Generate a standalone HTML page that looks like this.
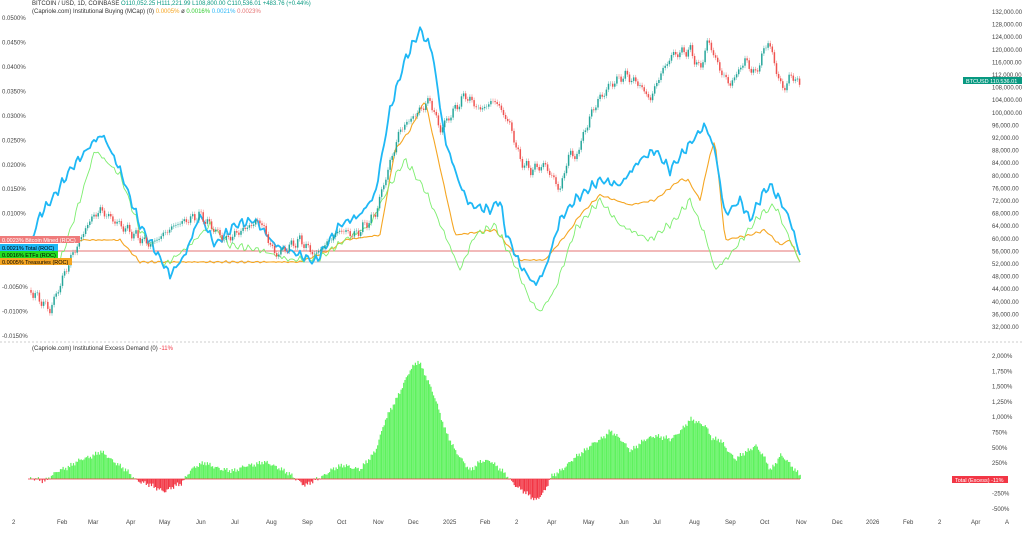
<!DOCTYPE html>
<html><head><meta charset="utf-8"><style>
body{margin:0;background:#fff;width:1024px;height:534px;overflow:hidden;font-family:"Liberation Sans",sans-serif}
svg text{font-family:"Liberation Sans",sans-serif}
</style></head><body>
<svg id="s" width="1024" height="534" xmlns="http://www.w3.org/2000/svg">
<line x1="0" y1="342" x2="1024" y2="342" stroke="#ccc" stroke-dasharray="2,2"/>
<g font-size="6" fill="#333">
<text x="32" y="5">BITCOIN / USD, 1D, COINBASE <tspan fill="#089981">O110,052.25 H111,221.99 L108,800.00 C110,536.01 +483.76 (+0.44%)</tspan></text>
<text x="32" y="13">(Capriole.com) Institutional Buying (MCap) (0) <tspan fill="#f5a623">0.0005%</tspan> ø <tspan fill="#3c3">0.0016%</tspan> <tspan fill="#29b6f6">0.0021%</tspan> <tspan fill="#e57373">0.0023%</tspan></text>
<text x="32" y="350">(Capriole.com) Institutional Excess Demand (0) <tspan fill="#f23645">-11%</tspan></text>
</g>
<g id="g"></g>
</svg>
<script>
const S=document.getElementById('g');let h='';
function I(p,x){for(let i=0;i<p.length-1;i++){if(x>=p[i][0]&&x<=p[i+1][0]){const t=(x-p[i][0])/(p[i+1][0]-p[i][0]);return p[i][1]+t*(p[i+1][1]-p[i][1]);}}return p[p.length-1][1];}
function pl(p,c,w){h+=`<polyline fill="none" stroke="${c}" stroke-width="${w}" stroke-linejoin="round" points="${p.map(a=>a.join(',')).join(' ')}"/>`;}
function nz(x,a){return (Math.sin(x*2.3)+Math.sin(x*0.77+1)*0.8+Math.sin(x*5.1+2)*0.5)*a;}
const L=['0.0500%','0.0450%','0.0400%','0.0350%','0.0300%','0.0250%','0.0200%','0.0150%','0.0100%','0.0050%','0.0000%','-0.0050%','-0.0100%','-0.0150%'];
L.forEach((t,i)=>{if(i<9||i>10)h+=`<text x="2" y="${20+i*24.46}" font-size="6" fill="#444">${t}</text>`;});
for(let p=132000;p>=32000;p-=4000){h+=`<text x="992" y="${14+(132000-p)*0.00315}" font-size="6" fill="#444">${p.toLocaleString('en-US')}.00</text>`;}
['2,000%','1,750%','1,500%','1,250%','1,000%','750%','500%','250%','','-250%','-500%'].forEach((t,i)=>{if(t)h+=`<text x="992" y="${358+i*15.3}" font-size="6" fill="#444">${t}</text>`;});
[['2',12],['Feb',57],['Mar',88],['Apr',126],['May',159],['Jun',196],['Jul',231],['Aug',266],['Sep',302],['Oct',337],['Nov',373],['Dec',408],['2025',443],['Feb',480],['2',515],['Apr',547],['May',583],['Jun',619],['Jul',653],['Aug',689],['Sep',725],['Oct',760],['Nov',796],['Dec',832],['2026',866],['Feb',903],['2',938],['Apr',971],['A',1005]].forEach(a=>{h+=`<text x="${a[1]}" y="524" font-size="6" fill="#444">${a[0]}</text>`;});
const H=[[30,479],[45,480],[60,470],[85,458],[100,452],[115,462],[135,479],[150,486],[165,491],[180,484],[190,470],[205,462],[220,470],[235,470],[250,465],[262,462],[280,468],[295,479],[305,485],[318,479],[330,470],[345,465],[360,470],[375,450],[385,420],[400,390],[410,370],[418,360],[425,375],[435,400],[445,430],[455,452],[470,470],[480,462],[490,460],[505,475],[515,485],[527,495],[535,500],[545,490],[550,478],[570,462],[590,445],[600,440],[610,430],[620,440],[630,450],[645,440],[655,435],[670,440],[682,428],[690,420],[705,425],[712,440],[720,440],[735,460],[745,452],[755,445],[765,460],[770,470],[780,455],[790,465],[800,475]];
for(let x=30;x<=800;x+=1.3){let y=I(H,x)+nz(x,1.5);const c=y<479?'#5ef25e':'#f23645';const y0=Math.min(y,479),hh=Math.abs(479-y);h+=`<rect x="${x.toFixed(1)}" y="${y0.toFixed(1)}" width="1.2" height="${hh.toFixed(1)}" fill="${c}"/>`;}
h+=`<line x1="28" y1="479" x2="800" y2="479" stroke="#f23645" stroke-width="0.8"/>`;
h+=`<line x1="30" y1="251" x2="800" y2="251" stroke="#e57373" stroke-width="1"/>`;
h+=`<line x1="30" y1="262" x2="800" y2="262" stroke="#aaa" stroke-width="0.8"/>`;
const O=[[30,240],[120,240],[140,262],[300,262],[330,250],[345,240],[380,235],[395,150],[410,130],[425,100],[435,145],[455,235],[495,230],[520,260],[545,260],[570,230],[580,215],[600,195],[630,205],[655,200],[680,180],[688,180],[700,200],[710,155],[715,140],[725,240],[750,235],[765,230],[780,245],[790,240],[800,262]];
const G=[[60,262],[80,200],[95,150],[120,175],[140,230],[165,265],[190,245],[210,225],[230,245],[260,250],[290,260],[320,258],[345,240],[370,225],[390,185],[405,160],[425,190],[445,235],[460,270],[475,235],[495,225],[515,265],[530,300],[540,312],[555,290],[575,230],[600,200],[620,225],[650,240],[675,220],[690,200],[705,235],[715,270],[730,255],[760,215],[775,205],[790,240],[800,262]];
const B=[[30,245],[40,215],[55,195],[70,170],[95,140],[103,135],[120,170],[140,225],[170,275],[185,255],[200,215],[215,245],[235,225],[255,220],[275,245],[300,255],[315,262],[340,225],[360,215],[375,195],[390,110],[405,60],[420,30],[432,50],[445,140],[460,185],[470,205],[490,210],[500,200],[505,230],[520,265],[535,285],[545,270],[560,220],[575,200],[600,180],[620,185],[640,160],[655,150],[670,170],[685,150],[705,125],[715,150],[725,215],[740,200],[750,220],[762,195],[770,185],[780,200],[790,220],[800,255]];
const jit=(p,a)=>{let r=[];for(let x=p[0][0];x<p[p.length-1][0];x+=2){r.push([x.toFixed(1),(I(p,x)+nz(x,a)).toFixed(1)]);}r.push(p[p.length-1]);return r;};
pl(jit(O,0.6),'#f5a623',1.1);pl(jit(G,2),'#7dee6f',0.9);pl(jit(B,2.5),'#1fb8f5',1.8);
const P=[[30,290],[50,310],[70,260],[90,220],[100,210],[120,225],[150,245],[175,225],[200,215],[225,240],[260,220],[275,255],[300,240],[315,255],[340,230],[355,235],[375,215],[385,180],[400,130],[420,110],[430,100],[440,130],[465,95],[480,110],[495,100],[510,125],[520,160],[530,170],[545,165],[560,190],[570,150],[575,160],[585,130],[595,105],[610,85],[625,75],[640,85],[650,100],[660,75],[672,55],[690,50],[700,70],[708,40],[720,70],[730,85],[745,60],[755,75],[768,40],[782,90],[792,75],[800,85]];
let prev=I(P,30);for(let x=31;x<=800;x+=2.1){const y=I(P,x)+nz(x,2.5);const c=y>prev?'#ef5350':'#26a69a';h+=`<line x1="${x}" y1="${(Math.min(y,prev)-2.5).toFixed(1)}" x2="${x}" y2="${(Math.max(y,prev)+2.5).toFixed(1)}" stroke="${c}" stroke-width="0.4"/><line x1="${x}" y1="${(prev).toFixed(1)}" x2="${x}" y2="${y.toFixed(1)}" stroke="${c}" stroke-width="1.5"/>`;prev=y;}
h+=`<rect x="0" y="236" width="80" height="7" fill="#ef7b7b"/><text x="2" y="242" font-size="5.5" fill="#fff">0.0023%   Bitcoin Mined (ROC)</text>`;
h+=`<rect x="0" y="244" width="58" height="7" fill="#1fb8f5"/><text x="2" y="250" font-size="5.5" fill="#000">0.0021%   Total (ROC)</text>`;
h+=`<rect x="0" y="251" width="58" height="7" fill="#22dd22"/><text x="2" y="257" font-size="5.5" fill="#000">0.0016%   ETFs (ROC)</text>`;
h+=`<rect x="0" y="258" width="72" height="7" fill="#f5a623"/><text x="2" y="264" font-size="5.5" fill="#000">0.0005%   Treasuries (ROC)</text>`;
h+=`<rect x="963" y="77" width="59" height="7" fill="#089981"/><text x="966" y="83" font-size="5.5" fill="#fff">BTCUSD   110,536.01</text>`;
h+=`<rect x="952" y="476" width="56" height="7" fill="#f23645"/><text x="955" y="482" font-size="5.5" fill="#fff">Total (Excess)   -11%</text>`;
S.innerHTML=h;
</script>
</body></html>
